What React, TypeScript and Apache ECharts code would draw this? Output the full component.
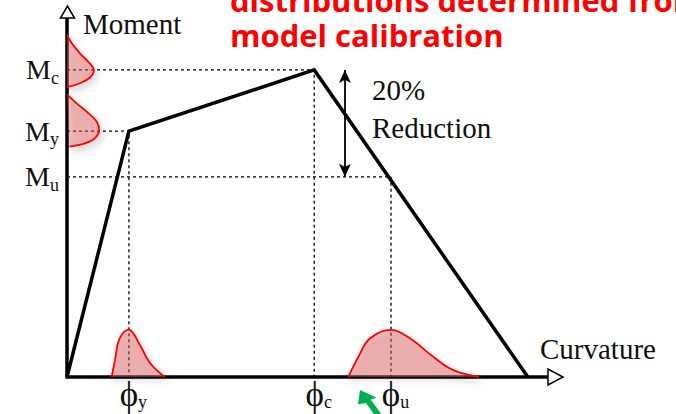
import React, { useEffect, useRef } from 'react';
import * as echarts from 'echarts';

// Key curvature points (phi_y, phi_c, phi_u) and their subscripts
const PHI_VALUES = [12.9, 51.5, 67.5];
const PHI_SUBS = ['y', 'c', 'u'];
// Key moment levels (M_c, M_y, M_u) and their subscripts
const M_VALUES = [85.3, 68.3, 55.6];
const M_SUBS = ['c', 'y', 'u'];

// Tri-linear backbone: origin -> yield -> capping -> zero strength
const backbone = [[0, 0], [12.9, 68.3], [51.5, 85.3], [96, 0]];

// Dotted projection guides onto the axes
const capGuide = [[0, 85.3], [51.5, 85.3], [51.5, 0]];
const yieldGuide = [[0, 68.3], [12.9, 68.3], [12.9, 0]];
const ultGuide = [[0, 55.6], [67.5, 55.6], [67.5, 0]];

// Double arrow showing the strength drop from M_c to M_u
const reductionX = 57.9;

// Probability distributions sketched along the axes
const distMc = [[0, 95], [1.0, 92.7], [2.7, 89.9], [4.4, 87.6], [5.6, 85.3], [4.8, 83.2], [2.7, 81.6], [0, 80.5]];
const distMy = [[0, 78.5], [2.0, 76.0], [4.1, 73.7], [6.2, 70.9], [6.7, 68.4], [5.8, 66.3], [3.75, 64.9], [0.5, 64.0]];
const distPhiY = [[9.3, 0], [10.0, 4.7], [11.0, 10.8], [13.0, 13.1], [15.2, 8.9], [17.3, 3.9], [20.4, 0]];
const distPhiU = [[58.6, 0], [60.7, 5.6], [63.1, 10.7], [67.4, 13.1], [71.5, 10.7], [76.3, 5.6], [80.5, 1.9], [85.8, 0]];

const SERIF = '"Liberation Serif", "DejaVu Serif", serif';

function guideSeries(pts: number[][]) {
  return {
    type: 'line',
    data: pts,
    symbol: 'none',
    silent: true,
    z: 3,
    lineStyle: { color: '#000', width: 1.3, type: [3, 3] },
  };
}

function distSeries(pts: number[][]) {
  return {
    type: 'custom',
    data: pts,
    silent: true,
    z: 6,
    renderItem: (params: any, api: any) => {
      if (params.dataIndex !== 0) return null;
      const points = pts.map((p) => api.coord(p));
      return {
        type: 'polyline',
        shape: { points, smooth: 0.4 },
        style: {
          fill: 'rgba(226,92,92,0.42)',
          stroke: '#ff0000',
          lineWidth: 1.8,
          shadowBlur: 7,
          shadowOffsetX: 2,
          shadowOffsetY: 4,
          shadowColor: 'rgba(0,0,0,0.28)',
        },
      };
    },
  };
}

export default function App() {
  const ref = useRef<HTMLDivElement>(null);

  useEffect(() => {
    if (!ref.current) return;
    const chart = echarts.init(ref.current, undefined, { renderer: 'svg' });

    const option: any = {
      animation: false,
      backgroundColor: '#fff',
      grid: { left: 67, top: 17, width: 480, height: 360, outerBoundsMode: 'none' },
      xAxis: {
        type: 'value',
        min: 0,
        max: 100,
        splitLine: { show: false },
        axisTick: { show: false },
        axisLine: { lineStyle: { color: '#000', width: 3.5 } },
        axisLabel: {
          customValues: PHI_VALUES,
          margin: 0,
          formatter: (v: number) => `{p|ϕ}{s|${PHI_SUBS[PHI_VALUES.indexOf(v)]}}`,
          rich: {
            p: { fontFamily: SERIF, fontSize: 35, color: '#111', lineHeight: 34, padding: [0, 0, 0, 9] },
            s: { fontFamily: SERIF, fontSize: 18, color: '#111', lineHeight: 16, verticalAlign: 'bottom' },
          },
        },
      },
      yAxis: {
        type: 'value',
        min: 0,
        max: 100,
        splitLine: { show: false },
        axisTick: { show: false },
        axisLine: { lineStyle: { color: '#000', width: 3.5 } },
        axisLabel: {
          customValues: M_VALUES,
          margin: 8,
          formatter: (v: number) => `{m|M}{s|${M_SUBS[M_VALUES.indexOf(v)]}}`,
          rich: {
            m: { fontFamily: SERIF, fontSize: 28, color: '#111', lineHeight: 34 },
            s: { fontFamily: SERIF, fontSize: 18, color: '#111', lineHeight: 12, verticalAlign: 'bottom' },
          },
        },
      },
      series: [
        guideSeries(capGuide),
        guideSeries(yieldGuide),
        guideSeries(ultGuide),
        {
          type: 'line',
          data: backbone,
          symbol: 'none',
          silent: true,
          z: 4,
          lineStyle: { color: '#000', width: 3.5, join: 'miter' },
          markLine: {
            silent: true,
            symbol: ['arrow', 'arrow'],
            symbolSize: [9, 13],
            label: { show: false },
            lineStyle: { color: '#000', width: 1.8, type: 'solid' },
            data: [[{ coord: [reductionX, M_VALUES[0]] }, { coord: [reductionX, M_VALUES[2]] }]],
          },
        },
        distSeries(distMc),
        distSeries(distMy),
        distSeries(distPhiY),
        distSeries(distPhiU),
      ],
      graphic: [
        // open arrowheads at the ends of both axes
        { type: 'polygon', z: 10, shape: { points: [[60.5, 18], [74.5, 18], [67.5, 6]] }, style: { fill: '#fff', stroke: '#000', lineWidth: 1.5 } },
        { type: 'polygon', z: 10, shape: { points: [[548, 369], [548, 385], [563, 377]] }, style: { fill: '#fff', stroke: '#000', lineWidth: 1.5 } },
        { type: 'text', x: 83, y: 24, style: { text: 'Moment', fontFamily: SERIF, fontSize: 29, fill: '#111', verticalAlign: 'middle' } },
        { type: 'text', x: 540, y: 349, style: { text: 'Curvature', fontFamily: SERIF, fontSize: 29, fill: '#111', verticalAlign: 'middle' } },
        { type: 'text', x: 372, y: 90, style: { text: '20%', fontFamily: SERIF, fontSize: 29, fill: '#111', verticalAlign: 'middle' } },
        { type: 'text', x: 372, y: 128, style: { text: 'Reduction', fontFamily: SERIF, fontSize: 29, fill: '#111', verticalAlign: 'middle' } },
        {
          type: 'text', x: 230, y: -18, z: 10,
          style: {
            text: 'distributions determined from\nmodel calibration',
            fontFamily: '"Open Sans", Lato, sans-serif', fontWeight: 'bold', fontSize: 31,
            lineHeight: 35, fill: '#ff0000', verticalAlign: 'top',
          },
        },
        // green pointer arrow
        {
          type: 'polygon', z: 10,
          shape: { points: [[360, 390], [358, 404.5], [365.9, 403.1], [379.6, 421.8], [384.4, 418.2], [370.7, 399.5], [376.5, 397.5]] },
          style: { fill: '#00b050' },
        },
      ],
    };

    chart.setOption(option);
    return () => chart.dispose();
  }, []);

  return <div ref={ref} style={{ position: 'fixed', left: 0, top: 0, width: 676, height: 414 }} />;
}
